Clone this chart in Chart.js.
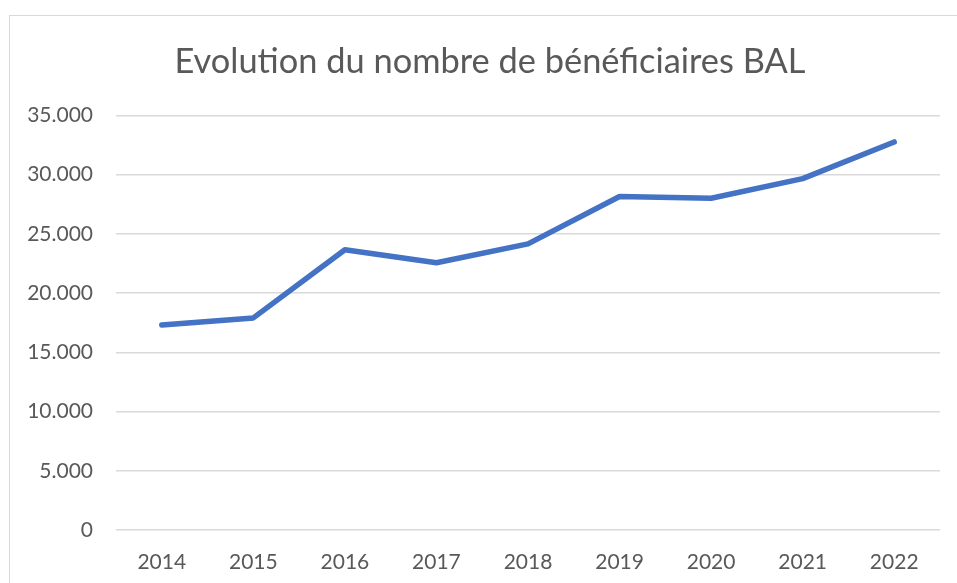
<!DOCTYPE html>
<html>
<head>
<meta charset="utf-8">
<script src="https://cdn.jsdelivr.net/npm/chart.js@4"></script>
<style>
  html, body { margin: 0; padding: 0; background: #fff; overflow: hidden; }
  #wrap { position: relative; width: 957px; height: 583px; }
  #frame { position: absolute; left: 9px; top: 15px; width: 1000px; height: 1000px;
           border: 1.5px solid #d9d9d9; box-sizing: border-box; }
  canvas { position: absolute; left: 0; top: 0; }
</style>
</head>
<body>
<div id="wrap">
  <div id="frame"></div>
  <canvas id="chart" width="957" height="583"></canvas>
</div>
<script>
const annees = ['2014', '2015', '2016', '2017', '2018', '2019', '2020', '2021', '2022'];
const beneficiaires = [17300, 17900, 23650, 22550, 24150, 28150, 28000, 29650, 32750];
const titre = 'Evolution du nombre de bénéficiaires BAL';

const couleurTexte = '#595959';
const police = 'Lato, "Open Sans", sans-serif';

function formatMilliers(v) {
    return v.toString().replace(/\B(?=(\d{3})+(?!\d))/g, '.');
}

const ctx = document.getElementById('chart').getContext('2d');
new Chart(ctx, {
    type: 'line',
    data: {
        labels: annees,
        datasets: [{
            data: beneficiaires,
            borderColor: '#4472C4',
            borderWidth: 5.5,
            borderCapStyle: 'round',
            borderJoinStyle: 'round',
            pointRadius: 0,
            tension: 0,
            fill: false
        }]
    },
    options: {
        responsive: false,
        animation: false,
        layout: { padding: { left: 40, right: 17, top: 0, bottom: 0 } },
        plugins: {
            legend: { display: false },
            tooltip: { enabled: false },
            title: {
                display: true,
                text: titre,
                color: couleurTexte,
                font: { family: police, size: 34.4, weight: 'normal' },
                padding: { top: 41, bottom: 33 }
            }
        },
        scales: {
            x: {
                offset: true,
                afterFit: (scale) => { scale.height = 53; },
                grid: { display: false },
                border: { display: false },
                ticks: { color: couleurTexte, font: { family: police, size: 21 }, padding: 12, maxRotation: 0 }
            },
            y: {
                min: 0,
                max: 35000,
                afterFit: (scale) => {
                    scale.width = 76;
                    // les libellés dépassent à gauche, on enlève le découpage
                    scale._computeLabelArea = () => undefined;
                },
                grid: { color: '#d9d9d9', lineWidth: 1.5, drawTicks: false },
                border: { display: false },
                ticks: {
                    stepSize: 5000,
                    color: couleurTexte,
                    font: { family: police, size: 21 },
                    padding: 23,
                    callback: (v) => formatMilliers(v)
                }
            }
        }
    }
});
</script>
</body>
</html>
